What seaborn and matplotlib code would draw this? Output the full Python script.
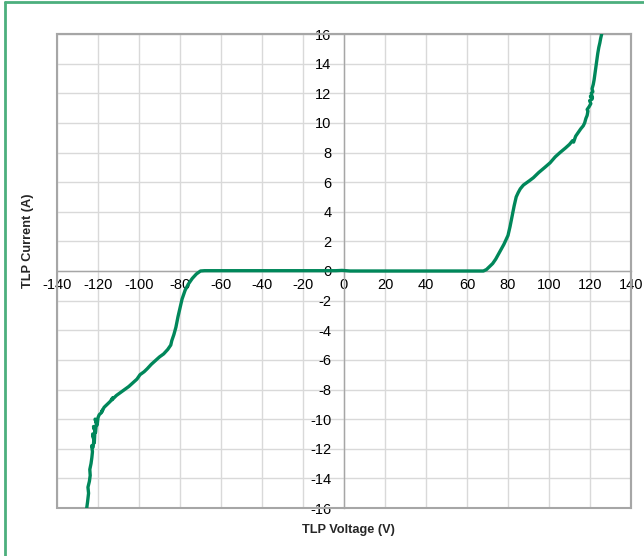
import matplotlib
matplotlib.use('Agg')
import matplotlib.pyplot as plt
import seaborn as sns
import pandas as pd
from matplotlib.patches import Rectangle
from matplotlib.lines import Line2D

# TLP sweep (voltage in V, current in A)
voltage = [-125.5, -125.1, -124.6, -124.9, -124.2, -123.8, -124.0, -123.4, -123.0,
           -122.7, -123.1, -122.4, -122.0, -122.6, -121.8, -121.5, -122.2, -121.2,
           -120.8, -121.4, -120.4, -120.0, -119.4, -118.6, -117.8, -118.2, -117.0,
           -115.5, -114.0, -112.8, -113.2, -111.0, -109.0, -107.0, -105.0, -103.0,
           -101.0, -99.5, -97.5, -96.0, -94.0, -92.0, -90.0, -88.0, -86.0, -84.5,
           -84.0, -83.0, -82.0, -81.0, -80.0, -79.0, -77.5, -76.0, -74.0, -72.0,
           -70.0, -68.0, -40.0, -4.0, -1.0, 3.0, 30.0, 68.0,
           69.5, 71.0, 72.5, 74.0, 76.0, 78.0, 80.0, 81.0, 82.0, 83.0, 84.0,
           85.0, 86.0, 87.5, 89.0, 90.5, 92.4, 95.0, 98.0, 100.5, 103.0,
           105.4, 108.0, 110.0, 111.5, 112.0, 113.0, 114.0, 115.5, 116.7, 117.4,
           118.0, 118.6, 119.0, 118.6, 119.6, 120.4, 119.8, 121.0, 120.2, 121.2,
           120.6, 121.4, 121.0, 121.6, 122.0, 122.5, 123.0, 123.4, 123.8, 124.3,
           124.8, 125.2, 125.7]
current = [-16.0, -15.6, -15.0, -14.6, -14.2, -13.8, -13.4, -13.0, -12.6,
           -12.2, -11.8, -11.9, -11.4, -11.0, -11.6, -10.8, -10.5, -10.9,
           -10.3, -10.0, -10.4, -9.9, -9.7, -9.6, -9.4, -9.5, -9.2,
           -9.0, -8.8, -8.55, -8.7, -8.4, -8.2, -8.0, -7.8, -7.55,
           -7.3, -7.0, -6.8, -6.6, -6.3, -6.05, -5.8, -5.6, -5.3, -5.0,
           -4.7, -4.3, -3.8, -3.1, -2.5, -1.9, -1.3, -0.9, -0.5, -0.2,
           0.0, 0.02, 0.02, 0.02, 0.04, 0.0, 0.0, 0.0,
           0.1, 0.3, 0.5, 0.8, 1.3, 1.8, 2.4, 3.0, 3.7, 4.4, 5.0,
           5.3, 5.55, 5.8, 5.95, 6.1, 6.3, 6.65, 7.0, 7.3, 7.7,
           8.0, 8.3, 8.55, 8.8, 8.7, 9.1, 9.3, 9.6, 9.8, 10.0,
           10.3, 10.5, 10.8, 10.9, 11.1, 11.3, 11.5, 11.6, 11.8, 11.7,
           12.0, 12.1, 12.3, 12.6, 12.9, 13.4, 13.9, 14.3, 14.7, 15.1,
           15.4, 15.7, 16.0]

x_ticks = list(range(-140, 141, 20))
y_ticks = list(range(-16, 17, 2))

df = pd.DataFrame({'V': voltage, 'I': current})

sns.set_style('white')
plt.rcParams['font.family'] = ['Liberation Sans', 'DejaVu Sans']
plt.rcParams['axes.unicode_minus'] = False

fig = plt.figure(figsize=(6.44, 5.56), dpi=100)
ax = fig.add_axes([57 / 644, (556 - 508) / 556, 574 / 644, 474 / 556])

sns.lineplot(data=df, x='V', y='I', sort=False, estimator=None,
             color='#00875a', linewidth=2.4, ax=ax, zorder=5)

ax.set_xlim(-140, 140)
ax.set_ylim(-16, 16)
ax.set_xticks(x_ticks)
ax.set_yticks(y_ticks)
ax.grid(True, color='#d9d9d9', linewidth=1.0)
ax.set_axisbelow(True)

# axes cross at the origin
for side in ['left', 'bottom']:
    ax.spines[side].set_position(('data', 0))
    ax.spines[side].set_color('#a6a6a6')
    ax.spines[side].set_linewidth(1.0)
for side in ['top', 'right']:
    ax.spines[side].set_color('#a6a6a6')
    ax.spines[side].set_linewidth(1.5)
ax.tick_params(length=0, labelsize=10.5, colors='black', pad=5)
ax.tick_params(axis='y', pad=9)

# outer plot frame
ax.add_patch(Rectangle((0, 0), 1, 1, transform=ax.transAxes, fill=False,
                       edgecolor='#a6a6a6', linewidth=1.5, clip_on=False, zorder=1))

ax.set_xlabel('')
ax.set_ylabel('')
fig.text(348 / 644, 1 - 530 / 556, 'TLP Voltage (V)', ha='center', va='center',
         fontsize=9.2, fontweight='bold')
fig.text(28 / 644, 1 - 241 / 556, 'TLP Current (A)', ha='center', va='center',
         rotation=90, fontsize=9.2, fontweight='bold')

# green chart border (left and top edges)
fig.add_artist(Line2D([4.5 / 644, 4.5 / 644], [0, 1 - 1.5 / 556], transform=fig.transFigure,
                      color='#4caf7d', linewidth=2))
fig.add_artist(Line2D([4.5 / 644, 1], [1 - 1.5 / 556, 1 - 1.5 / 556], transform=fig.transFigure,
                      color='#4caf7d', linewidth=2))

fig.savefig('out.png', dpi=100)
